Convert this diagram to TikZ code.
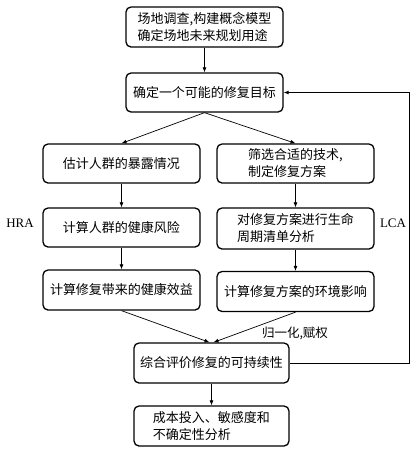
\documentclass[tikz,border=0pt]{standalone}
\usepackage{fontspec}
\setmainfont{Liberation Serif}
\newfontfamily\cjk{Noto Sans CJK SC}
\usetikzlibrary{positioning,calc,arrows.meta}
\tikzset{
  wire/.style    = {line width=0.7pt, -{Latex[length=5pt,width=4pt]}},
  fbwire/.style  = {line width=0.9pt, -{Latex[length=5pt,width=4pt]}},
  pbox/.style    = {draw, line width=1.3pt, rounded corners=5pt, fill=white,
                    minimum width=157pt, minimum height=40pt, inner sep=2pt,
                    align=left, font=\cjk\fontsize{13pt}{17pt}\selectfont},
  lbl/.style     = {inner sep=1pt, font=\fontsize{13pt}{15pt}\selectfont},
  clbl/.style    = {inner sep=1pt, font=\cjk\fontsize{12.5pt}{15pt}\selectfont},
}

\begin{document}
\begin{tikzpicture}[x=1pt,y=-1pt]
  \useasboundingbox (0,0) rectangle (416,451);
  % main column
  \node[pbox] (site) at (204.5,27) {场地调查,构建概念模型\\确定场地未来规划用途};
  \node[pbox, minimum height=39pt] (goal) at (204.5,92.5) {确定一个可能的修复目标};
  % HRA branch
  \node[pbox, minimum height=39pt] (expo) at (121.5,163.5) {估计人群的暴露情况};
  \node[pbox, minimum height=39pt] (risk) at (121.5,227.5) {计算人群的健康风险};
  \node[pbox] (gain) at (121.5,290) {计算修复带来的健康效益};
  % LCA branch
  \node[pbox, minimum height=39pt] (tech) at (295.5,163.5) {筛选合适的技术,\\制定修复方案};
  \node[pbox, minimum height=41pt] (inv) at (295.5,228.5) {对修复方案进行生命\\周期清单分析};
  \node[pbox] (envi) at (295.5,291.5) {计算修复方案的环境影响};
  % evaluation
  \node[pbox, minimum width=155pt] (eval) at (211.5,363) {综合评价修复的可持续性};
  \node[pbox, minimum width=155pt] (cost) at (211.5,426) {成本投入、敏感度和\\不确定性分析};
  \coordinate (fb) at (409,92.5);

  \draw[wire] (site) -- (goal);
  \draw[wire] (goal.south) -- (expo.north);
  \draw[wire] (goal.south) -- (tech.north);
  \draw[wire] (expo) -- (risk);
  \draw[wire] (risk) -- (gain);
  \draw[wire] (tech) -- (inv);
  \draw[wire] (inv) -- (envi);
  \draw[wire] (gain.south) -- ([xshift=-2pt]eval.north);
  \draw[wire] (envi.south) -- ([xshift=2pt]eval.north);
  \draw[wire] (eval) -- (cost);
  \draw[fbwire] (eval.east) -- (eval.east -| fb) -- (fb) -- (goal.east);

  \node[lbl] (hra) at (20,223) {HRA};
  \node[lbl] (lca) at (393,223) {LCA};
  \node[clbl] (norm) at (295,333) {归一化,赋权};
\end{tikzpicture}
\end{document}
